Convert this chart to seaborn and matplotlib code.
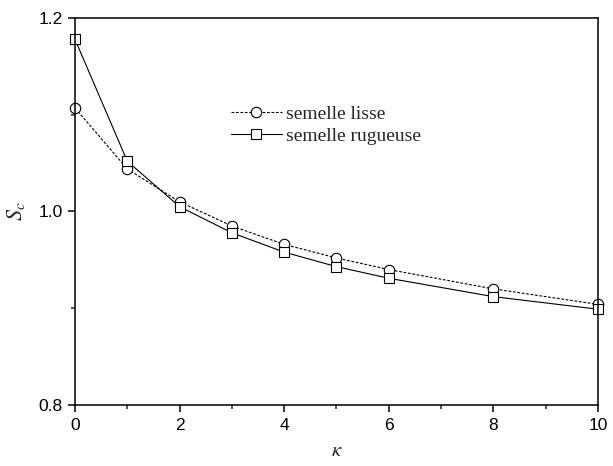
import numpy as np
import pandas as pd
import matplotlib
matplotlib.use("Agg")
import matplotlib.pyplot as plt
from matplotlib.ticker import MultipleLocator
import seaborn as sns

kappa = [0, 1, 2, 3, 4, 5, 6, 8, 10]
sc_lisse = [1.107, 1.044, 1.010, 0.985, 0.966, 0.952, 0.940, 0.920, 0.904]
sc_rugueuse = [1.178, 1.052, 1.005, 0.978, 0.958, 0.943, 0.931, 0.912, 0.899]
series_names = ["semelle lisse", "semelle rugueuse"]

df = pd.DataFrame({
    "kappa": kappa * 2,
    "Sc": sc_lisse + sc_rugueuse,
    "semelle": [series_names[0]] * len(kappa) + [series_names[1]] * len(kappa),
})

sns.set_theme(style="ticks")
plt.rcParams["font.family"] = ["Liberation Sans", "DejaVu Sans"]
plt.rcParams["mathtext.fontset"] = "stix"

fig = plt.figure(figsize=(6.13, 4.66), dpi=100)
ax = fig.add_axes([0.1223, 0.1309, 0.8532, 0.8305])

styles = {
    series_names[0]: dict(marker="o", linestyle=(0, (2.5, 1.5))),
    series_names[1]: dict(marker="s", linestyle="-"),
}
for name in series_names:
    sub = df[df["semelle"] == name]
    sns.lineplot(data=sub, x="kappa", y="Sc", ax=ax, color="black",
                 linewidth=0.8, markersize=7.5, markerfacecolor="white",
                 markeredgecolor="black", markeredgewidth=0.8,
                 label=name, clip_on=False, **styles[name])

ax.set_xlim(0, 10)
ax.set_ylim(0.8, 1.2)
ax.xaxis.set_major_locator(MultipleLocator(2))
ax.xaxis.set_minor_locator(MultipleLocator(1))
ax.yaxis.set_major_locator(MultipleLocator(0.2))
ax.yaxis.set_minor_locator(MultipleLocator(0.1))
ax.set_yticklabels([f"{v:.1f}" for v in ax.get_yticks()])
ax.tick_params(which="major", direction="out", length=5, width=1.1,
               labelsize=12.5, colors="black", pad=4)
ax.tick_params(which="minor", direction="out", length=3, width=1.1)
for s in ax.spines.values():
    s.set_linewidth(1.1)
    s.set_color("black")

ax.set_xlabel(r"$\kappa$", fontsize=15, labelpad=6)
ax.set_ylabel(r"$S_c$", fontsize=16, labelpad=8)

leg = ax.legend(loc="upper left", bbox_to_anchor=(0.265, 0.82), frameon=False,
                handlelength=2.6, handletextpad=0.25, labelspacing=0.25,
                prop={"family": "Liberation Serif", "size": 14})

fig.savefig("out.png", dpi=100)
